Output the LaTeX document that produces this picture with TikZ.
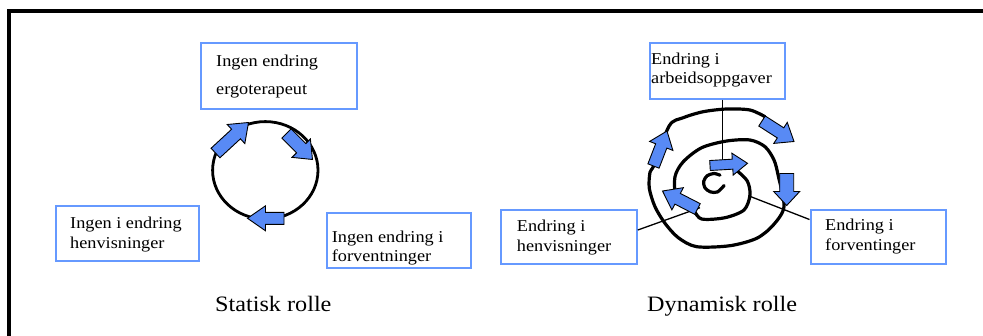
\documentclass[tikz,border=0pt]{standalone}
\usepackage{fontspec}
\setmainfont{Liberation Serif}[FakeStretch=1.1]
\usetikzlibrary{calc}
\definecolor{boxblue}{RGB}{102,153,255}
\definecolor{arrowblue}{RGB}{88,138,245}

\tikzset{
  labelbox/.style={draw=boxblue, line width=2pt, fill=white, inner sep=0pt, rectangle},
  boxtext/.style={anchor=base west, inner sep=0pt, font=\fontsize{16.6}{19}\selectfont},
  caption/.style={anchor=base west, inner sep=0pt, font=\fontsize{22}{26}\selectfont},
  curve/.style={line width=3.2pt, line join=round, line cap=round},
  leader/.style={line width=1.3pt},
  blockarrow/.style={fill=arrowblue, draw=black, line width=0.9pt, line join=miter},
  frameline/.style={line width=3.5pt},
}

% block arrow: tail, tip, half shaft width, half head width, head length
\newcommand\blockarr[5]{%
  \coordinate (ba-t) at (#1);
  \coordinate (ba-p) at (#2);
  \coordinate (ba-h) at ($(ba-p)!#5pt!(ba-t)$);
  \filldraw[blockarrow]
    ($(ba-t)!#3pt!90:(ba-p)$) -- ($(ba-h)!#3pt!-90:(ba-t)$) --
    ($(ba-h)!#4pt!-90:(ba-t)$) -- (ba-p) -- ($(ba-h)!#4pt!90:(ba-t)$) --
    ($(ba-h)!#3pt!90:(ba-t)$) -- ($(ba-t)!#3pt!-90:(ba-p)$) -- cycle;
}

\begin{document}
\begin{tikzpicture}[x=1pt, y=-1pt]
\useasboundingbox (0,0) rectangle (983,335);

% outer frame (top and left edges)
\draw[frameline] (1000,10.8) -- (9.2,10.8) -- (9.2,350);

% ---------- static role ----------
\node[labelbox, minimum width=156pt, minimum height=65.5pt] (b1) at (279,75.9) {};
\node[boxtext] (t1a) at (216,66) {Ingen endring};
\node[boxtext] (t1b) at (216,94) {ergoterapeut};

\node[labelbox, minimum width=143pt, minimum height=55pt] (b2) at (127,233.7) {};
\node[boxtext] (t2a) at (70,228) {Ingen i endring};
\node[boxtext] (t2b) at (70,248) {henvisninger};

\node[labelbox, minimum width=144pt, minimum height=54.6pt] (b3) at (399.2,240.5) {};
\node[boxtext] (t3a) at (331.7,242.7) {Ingen endring i};
\node[boxtext] (t3b) at (331.7,261.7) {forventninger};

\draw[curve, line width=2.8pt] (265.3,170.3) ellipse[x radius=52.7, y radius=48.7];
\blockarr{215.5,153}{248.5,122.5}{6.5}{13}{17}
\blockarr{286.5,133.5}{312.5,159.5}{6.5}{13}{16}
\blockarr{284,218.3}{247.5,218.3}{6}{12.5}{18}

\node[caption] (s1) at (215,311.7) {Statisk rolle};

% ---------- dynamic role ----------
\node[labelbox, minimum width=135.4pt, minimum height=55.3pt] (b4) at (717.5,70.9) {};
\node[boxtext] (t4a) at (651,64.3) {Endring i};
\node[boxtext] (t4b) at (651,83.3) {arbeidsoppgaver};

\node[labelbox, minimum width=135.6pt, minimum height=54pt] (b5) at (569,236.5) {};
\node[boxtext] (t5a) at (516.7,231) {Endring i};
\node[boxtext] (t5b) at (516.7,251) {henvisninger};

\node[labelbox, minimum width=135pt, minimum height=54pt] (b6) at (878,236.5) {};
\node[boxtext] (t6a) at (825,230.7) {Endring i};
\node[boxtext] (t6b) at (825,250.7) {forventinger};

% points on the spiral reached by the leader lines
\coordinate (sp1) at (722.7,160);
\coordinate (sp2) at (700,207.7);
\coordinate (sp3) at (748.3,195.7);

\draw[leader] (b4.south -| sp1) -- (sp1);
\draw[leader] (b5.east |- 0,230) -- (sp2);
\draw[leader] (b6.west |- 0,219.5) -- (sp3);

% inner curl
\draw[curve] plot[smooth] coordinates {(720.0,175.2) (714,173.5) (707.2,175.7) (703.7,181.3)
  (704.9,187.75) (710.4,191.9) (717.6,191.9) (724.1,185.5)};

% spiral winding outwards
\draw[curve] plot[smooth] coordinates {
  (737.3,171) (747.3,181) (750,195) (744,210) (725,217.7) (701.7,219) (693,210)
  (676.7,197) (675,176.7) (683.3,161.7) (701.7,147.7) (726.7,141) (750,140)
  (765,146.7) (774,160) (778.3,176)
  (784,206.7) (773.3,225) (756.7,238.3) (730,245.7) (696.7,246.7) (678.3,237.7)
  (665,223.3) (655,206.7) (649.3,188.3) (650,172.3) (654,165)
  (669.3,125.7) (683.3,117.7) (703.3,111.7) (726.7,109) (750,110) (765,116.7)};

\blockarr{710,165.5}{747.5,163.3}{5}{11}{15}
\blockarr{697.5,209}{662.5,191}{6}{12.5}{17}
\blockarr{786.7,173.5}{786.7,205.5}{7}{13}{14}
\blockarr{653.5,166}{667,131}{6}{12.5}{16}
\blockarr{762,121}{794,141.5}{6}{12.5}{16}

\node[caption] (s2) at (647,311.7) {Dynamisk rolle};
\end{tikzpicture}
\end{document}
